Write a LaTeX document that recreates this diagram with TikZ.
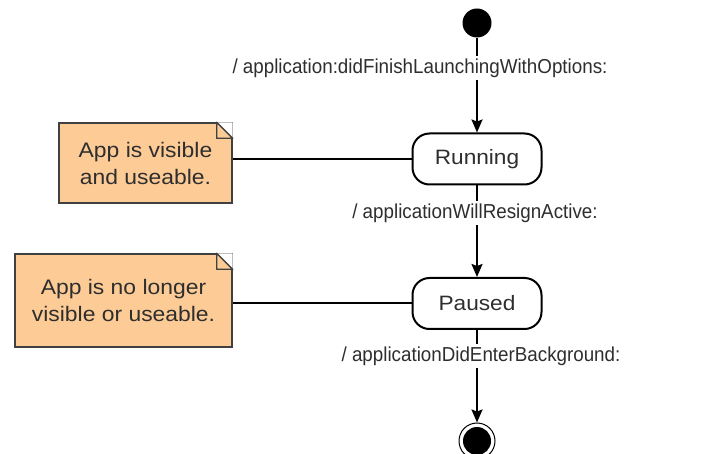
\documentclass[tikz,border=0pt]{standalone}
\usepackage{fontspec}
\setmainfont{Liberation Sans}
\newfontfamily\wideface[FakeStretch=1.09]{Liberation Sans}
\newfontfamily\narrowface[FakeStretch=0.93]{Liberation Sans}
\usetikzlibrary{arrows.meta}
\definecolor{notefill}{HTML}{FDCB96}
\definecolor{inktext}{HTML}{2E2E2E}
\tikzset{
  x=1pt, y=-1pt,
  flow/.style={line width=2pt, -{Stealth[length=13pt,width=11pt,inset=2pt]}},
  link/.style={line width=2pt},
  statebox/.style={draw, line width=2pt, rounded corners=17pt, minimum width=129pt,
    minimum height=51pt, text=inktext, font=\wideface\fontsize{20.8}{24}\selectfont},
  trigger/.style={fill=white, inner sep=2pt, text=inktext, font=\narrowface\fontsize{20.2}{24}\selectfont},
  notebox/.style={fill=notefill, draw=black!75, line width=1.4pt, align=center,
    text=inktext, font=\wideface\fontsize{21}{27}\selectfont, inner sep=0pt},
}
\newcommand{\notefold}[1]{%
  \fill[white] ([xshift=-16pt]#1.north east) -- (#1.north east) -- ([yshift=-16pt]#1.north east) -- cycle;
  \draw[black!75, line width=1.4pt, line join=round]
    ([xshift=-16pt]#1.north east) -- ([yshift=-16pt]#1.north east)
    -- ([xshift=-16pt,yshift=-16pt]#1.north east) -- cycle;
}
\begin{document}
\begin{tikzpicture}
  \useasboundingbox (0,0) rectangle (721,454);

  % pseudo-states
  \node[circle, fill=black, minimum size=29pt, inner sep=0pt] (init) at (477,23) {};
  \node[circle, draw, line width=1pt, minimum size=36pt, inner sep=0pt] (final) at (477,441) {};
  \fill (final.center) circle (14pt);

  % states
  \node[statebox] (running) at (477,159) {Running};
  \node[statebox] (paused) at (477,303.5) {Paused};

  % transition triggers
  \node[trigger] (t1) at (420,68) {/ application:didFinishLaunchingWithOptions:};
  \node[trigger] (t2) at (475,213) {/ applicationWillResignActive:};
  \node[trigger] (t3) at (481,356) {/ applicationDidEnterBackground:};

  % notes
  \node[notebox, minimum width=173pt, minimum height=80pt] (n1) at (145.5,163)
    {App is visible\\and useable.};
  \node[notebox, minimum width=217pt, minimum height=93pt] (n2) at (123.5,300.5)
    {App is no longer\\visible or useable.};
  \notefold{n1}
  \notefold{n2}

  % transitions
  \draw[link] (init) -- (init |- t1.north);
  \draw[flow] (init |- t1.south) -- (running);
  \draw[link] (running) -- (running |- t2.north);
  \draw[flow] (running |- t2.south) -- (paused);
  \draw[link] (paused) -- (paused |- t3.north);
  \draw[flow] (paused |- t3.south) -- (final);

  % note anchors
  \draw[link] (running.west) -- (running.west -| n1.east);
  \draw[link] (paused.west) -- (paused.west -| n2.east);
\end{tikzpicture}
\end{document}
